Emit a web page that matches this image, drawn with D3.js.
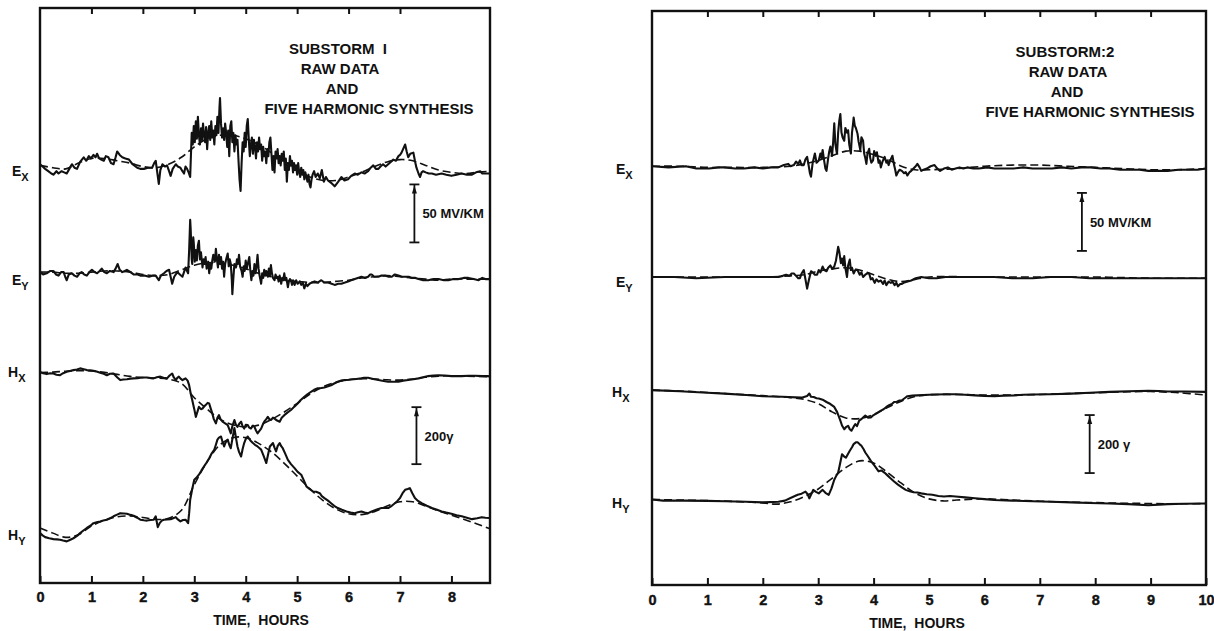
<!DOCTYPE html>
<html><head><meta charset="utf-8">
<script src="https://cdn.jsdelivr.net/npm/d3@7"></script>
<style>
body{margin:0;background:#fff}
svg{display:block}
text{font-family:"Liberation Sans",Arial,sans-serif;fill:#111}
</style>
</head><body>
<svg id="chart" width="1214" height="631"></svg>
<script>
// ---------------- DATA ----------------
const hoursTicks1 = [0,1,2,3,4,5,6,7,8];
const hoursTicks2 = [0,1,2,3,4,5,6,7,8,9,10];
const titleLines1 = ["SUBSTORM  I","RAW DATA","AND","FIVE HARMONIC SYNTHESIS"];
const titleLines2 = ["SUBSTORM:2","RAW DATA","AND","FIVE HARMONIC SYNTHESIS"];
const axisTitle = "TIME,  HOURS";
const eBarLabel = "50 MV/KM";
const hBarLabel1 = "200\u03b3";
const hBarLabel2 = "200 \u03b3";
const eBarSize = 50;   // mV/km
const hBarSize = 200;  // gamma

// Substorm 1 — [hours, deviation] (E in mV/km, H in gamma)
const ex1Raw = [[0,3],[0.05,1],[0.1,-1],[0.16,-3],[0.22,-5],[0.26,-6],[0.32,-3],[0.36,-5],[0.42,-3],[0.47,-4],[0.52,-5],[0.57,-1],[0.62,3],[0.67,0],[0.72,-1],[0.78,5],[0.85,9],[0.9,6],[0.95,10],[0.99,8],[1.04,11],[1.08,9],[1.11,12],[1.15,8],[1.19,7],[1.24,6],[1.28,10],[1.33,9],[1.38,4],[1.43,3],[1.47,9],[1.5,14],[1.55,11],[1.6,9],[1.66,8],[1.73,7],[1.8,3],[1.89,0],[1.95,-1],[2.02,-1],[2.1,0],[2.18,0],[2.22,4],[2.25,6],[2.28,-4],[2.31,-14],[2.34,-2],[2.38,3],[2.43,1],[2.47,2],[2.51,-3],[2.54,-7],[2.58,-1],[2.64,3],[2.68,1],[2.73,0],[2.77,-3],[2.8,-5],[2.83,1],[2.86,-1],[2.89,-4],[2.92,-8],
[2.95,30],[2.97,20],[2.99,36],[3.01,22],[3.03,40],[3.05,25],[3.07,44],[3.09,28],[3.11,20],[3.13,34],[3.15,24],[3.17,38],[3.19,28],[3.21,22],[3.23,35],[3.25,16],[3.27,30],[3.29,36],[3.31,24],[3.33,40],[3.35,26],[3.37,32],[3.39,20],[3.41,36],[3.43,28],[3.45,44],[3.47,30],[3.49,52],[3.5,60],[3.52,38],[3.54,26],[3.56,34],[3.58,24],[3.6,38],[3.62,30],[3.64,18],[3.66,32],[3.68,10],[3.7,36],[3.72,40],[3.74,22],[3.76,30],[3.78,14],[3.8,28],[3.82,20],[3.84,24],[3.86,6],[3.88,-10],[3.9,-20],[3.92,4],[3.94,22],[3.96,14],[3.98,30],[4.0,18],[4.02,36],[4.04,42],[4.06,24],[4.08,10],[4.1,20],[4.12,26],[4.14,12],[4.16,24],[4.18,18],[4.2,8],[4.22,22],[4.24,14],[4.26,26],[4.28,16],[4.3,20],[4.32,6],[4.34,18],[4.36,10],[4.38,14],[4.4,4],[4.42,16],[4.44,10],[4.46,22],[4.48,26],[4.5,12],[4.52,-2],[4.54,10],[4.56,-4],[4.58,14],[4.6,8],[4.62,16],[4.64,4],[4.66,10],[4.68,2],[4.7,12],[4.72,6],[4.74,14],[4.76,-2],[4.78,8],[4.8,-12],[4.82,4],[4.84,-2],[4.86,10],[4.88,2],[4.9,6],[4.92,-4],[4.94,4],[4.96,-2],[4.98,2],[5.0,-6],[5.02,4],[5.04,-4],[5.06,-8],[5.08,0],[5.1,-6],[5.12,-2],[5.14,-10],[5.16,-4],[5.18,-8],[5.2,-12],[5.22,-6],[5.24,-14],[5.26,-17],[5.28,-10],[5.3,-6],[5.33,-3],[5.36,-8],[5.4,-5],[5.44,-9],[5.48,-2],[5.52,-12],[5.56,-8],
[5.6,-11],[5.66,-13],[5.73,-16],[5.8,-12],[5.86,-8],[5.92,-11],[5.99,-10],[6.05,-7],[6.12,-5],[6.18,-6],[6.25,-4],[6.31,-5],[6.38,-3],[6.43,0],[6.48,2],[6.53,-1],[6.58,-1],[6.62,1],[6.67,3],[6.72,1],[6.77,3],[6.82,5],[6.87,7],[6.92,6],[6.97,10],[7.0,11],[7.03,13],[7.06,16],[7.1,20],[7.13,14],[7.16,9],[7.2,12],[7.26,13],[7.29,6],[7.32,0],[7.36,-5],[7.39,-8],[7.42,-4],[7.45,-3],[7.5,-4],[7.56,-5],[7.62,-5],[7.7,-6],[7.81,-5],[7.9,-6],[8.0,-7],[8.1,-6],[8.2,-5],[8.3,-6],[8.4,-6],[8.48,-4],[8.56,-3],[8.6,-5],[8.7,-5],[8.75,-5]];
const ex1Syn = [[0,2],[0.25,0],[0.5,-1],[0.75,4],[1,8],[1.25,8],[1.5,6],[1.75,4],[2,1],[2.25,0],[2.5,3],[2.75,9],[3,18],[3.25,25],[3.5,28],[3.75,28],[4,25],[4.25,20],[4.5,13],[4.75,6],[5,-2],[5.25,-8],[5.5,-11],[5.75,-11],[6,-8],[6.25,-4],[6.5,1],[6.75,5],[7,7],[7.25,6],[7.5,2],[7.75,-2],[8,-4],[8.25,-5],[8.5,-4],[8.75,-3]];

const ey1Raw = [[0,1],[0.06,-1],[0.13,0],[0.2,2],[0.26,2],[0.31,-1],[0.36,-2],[0.41,1],[0.46,1],[0.49,-3],[0.52,-6],[0.56,-1],[0.62,0],[0.67,-2],[0.72,-3],[0.77,0],[0.81,1],[0.86,-1],[0.91,-2],[0.96,1],[1.01,3],[1.06,1],[1.11,0],[1.16,2],[1.2,4],[1.25,1],[1.3,0],[1.36,2],[1.43,1],[1.47,4],[1.51,8],[1.55,3],[1.6,1],[1.65,2],[1.69,3],[1.76,1],[1.82,-1],[1.9,-1],[1.95,-2],[2.03,-2],[2.12,-3],[2.2,-2],[2.25,-2],[2.28,-4],[2.31,-6],[2.35,-2],[2.41,0],[2.46,2],[2.51,3],[2.54,-3],[2.57,-9],[2.61,-3],[2.67,1],[2.72,-1],[2.77,-3],[2.8,1],[2.83,5],[2.86,2],[2.88,0],[2.9,20],[2.92,46],[2.93,38],[2.95,12],[2.96,8],[2.98,31],[2.99,26],[3.01,10],[3.03,20],[3.05,11],[3.07,24],[3.09,28],[3.11,12],[3.13,18],[3.16,5],[3.18,12],[3.2,8],[3.22,14],[3.24,4],[3.27,10],[3.29,0],[3.31,8],[3.33,4],[3.35,11],[3.37,16],[3.4,10],[3.42,21],[3.44,12],[3.46,5],[3.48,16],[3.5,8],[3.52,14],[3.54,4],[3.56,10],[3.58,-3],[3.6,8],[3.62,12],[3.65,17],[3.67,6],[3.69,12],[3.71,8],[3.73,-6],[3.74,-18],[3.76,-4],[3.78,8],[3.81,5],[3.83,12],[3.85,8],[3.87,16],[3.89,6],[3.92,2],[3.94,-3],[3.96,6],[3.98,2],[4.0,11],[4.02,4],[4.04,8],[4.07,14],[4.09,2],[4.11,-6],[4.13,2],[4.15,-2],[4.17,8],[4.19,0],[4.21,6],[4.23,16],[4.25,4],[4.27,-2],[4.3,-9],[4.32,0],[4.34,-4],[4.36,3],[4.38,-2],[4.4,2],[4.43,-3],[4.45,4],[4.47,-2],[4.49,7],[4.51,0],[4.53,-4],[4.56,-6],[4.58,-1],[4.6,-4],[4.62,-3],[4.64,-7],[4.66,-2],[4.69,-9],[4.71,-4],[4.73,-6],[4.75,0],[4.77,-6],[4.79,-4],[4.82,-12],[4.84,-7],[4.86,-5],[4.88,-6],[4.9,-10],[4.92,-6],[4.95,-10],[4.98,-6],[5.01,-9],[5.05,-7],[5.08,-10],[5.11,-8],[5.14,-13],[5.17,-9],[5.2,-11],[5.24,-9],[5.28,-8],[5.34,-7],[5.4,-8],[5.47,-6],[5.53,-8],[5.6,-8],[5.67,-9],[5.73,-10],[5.8,-9],[5.86,-9],[5.93,-8],[5.99,-7],[6.05,-6],[6.12,-5],[6.18,-4],[6.25,-3],[6.32,-4],[6.38,-3],[6.42,-1],[6.45,-1],[6.5,-3],[6.58,-3],[6.64,-2],[6.71,-2],[6.78,-3],[6.84,-3],[6.9,-1],[6.97,-2],[7.04,-3],[7.1,-3],[7.17,-3],[7.23,-4],[7.3,-4],[7.36,-5],[7.45,-6],[7.55,-6],[7.65,-5],[7.75,-5],[7.85,-6],[7.94,-6],[8.04,-5],[8.14,-5],[8.24,-4],[8.33,-4],[8.43,-5],[8.53,-6],[8.6,-4],[8.66,-5],[8.75,-5]];
const ey1Syn = [[0,1],[0.25,1],[0.5,0],[0.75,0],[1,1],[1.25,2],[1.5,2],[1.75,1],[2,-1],[2.25,-2],[2.5,-1],[2.75,3],[3,7],[3.25,9],[3.5,9],[3.75,7],[4,4],[4.25,0],[4.5,-3],[4.75,-6],[5,-7],[5.25,-8],[5.5,-8],[5.75,-7],[6,-6],[6.25,-4],[6.5,-3],[6.75,-2],[7,-3],[7.25,-4],[7.5,-5],[7.75,-6],[8,-5],[8.25,-5],[8.5,-5],[8.75,-5]];

const hx1Raw = [[0,0],[0.06,-4],[0.13,-7],[0.2,-4],[0.26,-5],[0.32,-9],[0.39,-11],[0.45,-4],[0.52,1],[0.58,4],[0.65,7],[0.72,9],[0.78,13],[0.85,10],[0.91,7],[0.98,6],[1.04,5],[1.1,2],[1.17,-2],[1.24,-6],[1.3,-11],[1.36,-6],[1.43,-5],[1.5,-18],[1.56,-28],[1.62,-26],[1.69,-25],[1.76,-23],[1.82,-22],[1.9,-21],[1.95,-20],[2.02,-19],[2.08,-19],[2.15,-21],[2.21,-22],[2.27,-18],[2.34,-16],[2.4,-20],[2.47,-22],[2.52,-12],[2.57,-5],[2.6,-18],[2.64,-28],[2.67,-20],[2.7,-16],[2.74,-24],[2.77,-28],[2.8,-25],[2.83,-22],[2.87,-30],[2.9,-46],[2.93,-75],[2.96,-98],[3.0,-130],[3.03,-157],[3.06,-140],[3.09,-122],[3.13,-130],[3.16,-128],[3.19,-120],[3.22,-116],[3.26,-108],[3.29,-110],[3.32,-128],[3.35,-145],[3.38,-165],[3.42,-180],[3.45,-160],[3.48,-151],[3.51,-165],[3.55,-174],[3.6,-180],[3.65,-186],[3.68,-200],[3.71,-215],[3.74,-190],[3.78,-168],[3.81,-185],[3.84,-192],[3.88,-180],[3.91,-174],[3.94,-190],[3.97,-198],[4.0,-185],[4.04,-186],[4.07,-195],[4.1,-198],[4.14,-188],[4.17,-192],[4.2,-205],[4.23,-215],[4.27,-205],[4.3,-198],[4.33,-185],[4.36,-174],[4.4,-165],[4.43,-157],[4.46,-165],[4.49,-168],[4.53,-160],[4.56,-163],[4.61,-170],[4.66,-174],[4.7,-160],[4.75,-151],[4.81,-142],[4.88,-133],[4.94,-122],[5.01,-110],[5.07,-98],[5.14,-87],[5.2,-78],[5.27,-69],[5.33,-62],[5.4,-57],[5.47,-56],[5.53,-54],[5.6,-50],[5.66,-46],[5.72,-40],[5.79,-34],[5.85,-30],[5.92,-28],[6.0,-27],[6.05,-26],[6.15,-24],[6.25,-22],[6.3,-20],[6.38,-20],[6.48,-24],[6.58,-28],[6.68,-31],[6.77,-34],[6.87,-34],[6.97,-34],[7.06,-30],[7.16,-28],[7.26,-25],[7.36,-22],[7.45,-18],[7.55,-14],[7.65,-12],[7.75,-11],[7.87,-12],[8.0,-14],[8.1,-14],[8.2,-14],[8.33,-13],[8.46,-13],[8.6,-14],[8.7,-14],[8.75,-15]];
const hx1Syn = [[0,-2],[0.25,0],[0.5,3],[0.75,5],[1,4],[1.25,-1],[1.5,-8],[1.75,-15],[2,-19],[2.25,-21],[2.5,-25],[2.75,-40],[3,-90],[3.25,-130],[3.5,-165],[3.75,-185],[4,-192],[4.25,-186],[4.5,-166],[4.75,-140],[5,-110],[5.25,-77],[5.5,-52],[5.75,-36],[6,-27],[6.25,-23],[6.5,-24],[6.75,-27],[7,-28],[7.25,-24],[7.5,-18],[7.75,-14],[8,-13],[8.25,-14],[8.5,-15],[8.75,-16]];

const hy1Raw = [[0,0],[0.05,-8],[0.1,-14],[0.18,-18],[0.26,-21],[0.33,-22],[0.39,-23],[0.45,-26],[0.52,-29],[0.58,-24],[0.65,-18],[0.72,-10],[0.78,0],[0.85,10],[0.91,18],[0.98,26],[1.04,35],[1.1,38],[1.17,41],[1.23,44],[1.3,47],[1.36,52],[1.43,59],[1.5,65],[1.56,70],[1.63,69],[1.69,68],[1.76,64],[1.82,61],[1.89,54],[1.95,47],[2.02,45],[2.08,44],[2.15,46],[2.21,47],[2.25,59],[2.27,40],[2.29,21],[2.33,36],[2.37,44],[2.41,47],[2.47,48],[2.54,49],[2.59,52],[2.64,56],[2.68,48],[2.73,41],[2.78,46],[2.83,47],[2.88,35],[2.9,70],[2.92,117],[2.96,155],[3.0,187],[3.05,196],[3.09,205],[3.14,220],[3.19,234],[3.24,248],[3.29,263],[3.34,280],[3.39,293],[3.42,310],[3.45,328],[3.48,335],[3.52,339],[3.55,320],[3.58,304],[3.61,318],[3.65,328],[3.68,310],[3.71,298],[3.74,330],[3.78,369],[3.81,335],[3.84,304],[3.87,285],[3.91,269],[3.94,295],[3.97,316],[4.0,330],[4.04,339],[4.09,325],[4.14,316],[4.18,310],[4.23,304],[4.27,298],[4.3,293],[4.35,270],[4.4,246],[4.44,280],[4.47,304],[4.5,310],[4.53,316],[4.56,300],[4.59,287],[4.62,305],[4.66,316],[4.69,305],[4.72,298],[4.77,278],[4.82,257],[4.88,242],[4.95,228],[5.01,215],[5.08,205],[5.13,185],[5.18,164],[5.24,155],[5.31,146],[5.37,145],[5.44,140],[5.48,130],[5.53,123],[5.6,114],[5.66,105],[5.72,96],[5.79,88],[5.87,82],[5.96,76],[6.04,72],[6.12,70],[6.18,73],[6.25,76],[6.31,72],[6.38,70],[6.45,76],[6.51,80],[6.58,85],[6.64,88],[6.71,88],[6.77,88],[6.84,96],[6.9,105],[6.95,113],[7.0,123],[7.05,140],[7.1,152],[7.15,155],[7.19,158],[7.24,140],[7.29,123],[7.35,113],[7.42,105],[7.52,96],[7.62,88],[7.72,82],[7.81,76],[7.9,72],[8.0,68],[8.1,63],[8.2,59],[8.3,54],[8.4,49],[8.5,52],[8.59,56],[8.66,54],[8.75,53]];
const hy1Syn = [[0,18],[0.25,0],[0.5,-15],[0.75,-5],[1,25],[1.25,45],[1.5,57],[1.75,60],[2,55],[2.25,48],[2.5,52],[2.75,80],[3,170],[3.25,250],[3.5,310],[3.75,335],[4,335],[4.25,315],[4.5,285],[4.75,245],[5,200],[5.25,155],[5.5,115],[5.75,85],[6,68],[6.25,65],[6.5,75],[6.75,95],[7,110],[7.25,110],[7.5,95],[7.75,78],[8,63],[8.25,48],[8.5,32],[8.75,15]];

// Substorm 2
const ex2Raw = [[0,1],[0.3,0],[0.61,1],[0.8,-1],[1.03,-1],[1.2,0],[1.31,0],[1.5,-1],[1.66,-1],[1.85,0],[2.0,-1],[2.15,0],[2.28,0],[2.38,2],[2.46,3],[2.5,1],[2.56,2],[2.6,5],[2.64,3],[2.67,6],[2.7,2],[2.74,2],[2.77,7],[2.8,9],[2.83,1],[2.85,-5],[2.87,-8],[2.9,4],[2.92,8],[2.94,12],[2.97,4],[3.01,6],[3.04,12],[3.06,8],[3.08,15],[3.11,5],[3.13,-1],[3.15,-3],[3.18,8],[3.2,14],[3.22,18],[3.25,10],[3.27,22],[3.29,38],[3.31,20],[3.33,14],[3.34,12],[3.36,30],[3.38,40],[3.4,46],[3.42,30],[3.44,26],[3.47,23],[3.49,34],[3.52,30],[3.54,32],[3.56,20],[3.59,12],[3.61,30],[3.63,38],[3.64,43],[3.66,36],[3.68,34],[3.71,29],[3.73,22],[3.76,15],[3.78,26],[3.81,23],[3.83,12],[3.85,8],[3.87,3],[3.89,12],[3.92,16],[3.94,8],[3.96,4],[3.99,6],[4.01,14],[4.04,10],[4.06,13],[4.09,4],[4.11,6],[4.13,0],[4.16,5],[4.18,7],[4.2,9],[4.23,4],[4.25,6],[4.27,2],[4.3,6],[4.32,8],[4.34,10],[4.37,2],[4.39,-2],[4.41,-7],[4.44,-4],[4.47,-2],[4.51,-3],[4.55,-5],[4.58,-4],[4.61,-7],[4.65,-4],[4.68,-3],[4.72,-1],[4.76,1],[4.79,3],[4.83,0],[4.86,-3],[4.9,-2],[4.96,-1],[5.03,1],[5.1,2],[5.15,-1],[5.2,-3],[5.27,-1],[5.34,0],[5.41,-2],[5.48,-1],[5.55,0],[5.62,-1],[5.69,0],[5.8,-1],[5.9,-1],[6.05,0],[6.18,-1],[6.35,-1],[6.53,-1],[6.7,0],[6.87,-1],[7.05,-1],[7.22,-1],[7.4,0],[7.57,-1],[7.75,0],[7.92,0],[8.1,-1],[8.26,-1],[8.45,-2],[8.61,-2],[8.8,-2],[8.96,-3],[9.15,-3],[9.31,-3],[9.5,-2],[9.66,-2],[9.85,-2],[10,-1]];
const ex2Syn = [[0,1],[0.5,1],[1,0],[1.5,0],[2,0],[2.5,1],[2.75,3],[3,6],[3.25,10],[3.5,14],[3.75,14],[4,11],[4.25,7],[4.5,1],[4.75,-2],[5,-2],[5.5,-1],[6,1],[6.5,2],[7,2],[7.5,1],[8,0],[8.5,-1],[9,-2],[9.5,-2],[10,-1]];

const ey2Raw = [[0,0],[0.4,0],[0.8,-1],[1.31,0],[1.8,0],[2.28,0],[2.36,1],[2.42,2],[2.48,1],[2.52,3],[2.56,3],[2.6,1],[2.64,-1],[2.67,-1],[2.7,3],[2.74,6],[2.77,-2],[2.8,-10],[2.83,-3],[2.87,5],[2.9,4],[2.94,2],[2.98,2],[3.01,6],[3.04,4],[3.08,9],[3.11,6],[3.15,5],[3.18,8],[3.22,10],[3.25,7],[3.29,9],[3.32,14],[3.34,20],[3.36,26],[3.38,22],[3.41,12],[3.43,16],[3.45,10],[3.47,18],[3.49,8],[3.52,0],[3.54,10],[3.57,15],[3.59,6],[3.61,8],[3.64,3],[3.67,6],[3.71,6],[3.75,2],[3.78,4],[3.81,0],[3.85,2],[3.88,3],[3.92,3],[3.95,-2],[3.98,-1],[4.02,-5],[4.05,-2],[4.09,-4],[4.13,-3],[4.17,-6],[4.2,-3],[4.23,-7],[4.27,-4],[4.31,-5],[4.34,-4],[4.38,-7],[4.41,-5],[4.44,-8],[4.48,-6],[4.51,-6],[4.54,-5],[4.6,-4],[4.68,-3],[4.76,-1],[4.86,0],[5,-1],[5.14,-1],[5.3,0],[5.48,0],[5.7,0],[6,0],[6.18,0],[6.5,-1],[6.87,-1],[7.2,0],[7.57,0],[7.9,-1],[8.26,-1],[8.6,-1],[8.96,-1],[9.5,-1],[10,-1]];
const ey2Syn = [[0,0],[1,0],[2,0],[2.5,1],[2.75,2],[3,5],[3.25,7],[3.5,8],[3.75,6],[4,2],[4.25,-2],[4.5,-4],[4.75,-2],[5,0],[6,0],[7,0],[8,0],[9,-1],[10,-1]];

const hx2Raw = [[0,0],[0.5,-4],[1,-9],[1.31,-12],[1.7,-17],[2.0,-21],[2.35,-23],[2.7,-26],[2.8,-20],[2.84,-12],[2.87,-23],[2.92,-24],[2.97,-28],[3.01,-29],[3.08,-33],[3.15,-41],[3.22,-48],[3.29,-58],[3.34,-75],[3.37,-90],[3.4,-105],[3.43,-122],[3.47,-135],[3.5,-128],[3.54,-123],[3.57,-135],[3.6,-140],[3.64,-126],[3.67,-117],[3.7,-124],[3.74,-105],[3.79,-98],[3.85,-88],[3.9,-95],[3.95,-94],[4.0,-86],[4.04,-82],[4.09,-76],[4.14,-70],[4.18,-66],[4.23,-58],[4.28,-52],[4.33,-48],[4.37,-41],[4.42,-40],[4.46,-36],[4.51,-35],[4.56,-28],[4.61,-21],[4.7,-19],[4.79,-18],[5.0,-16],[5.14,-15],[5.3,-14],[5.48,-14],[5.65,-16],[5.83,-18],[6.0,-20],[6.18,-21],[6.35,-19],[6.53,-18],[6.7,-16],[6.87,-15],[7.2,-14],[7.57,-12],[7.9,-9],[8.26,-6],[8.6,-4],[8.96,-2],[9.15,-3],[9.31,-5],[9.6,-5],[10,-6]];
const hx2Syn = [[0,0],[0.5,-3],[1,-8],[1.5,-14],[2,-19],[2.5,-26],[2.75,-32],[3,-47],[3.25,-75],[3.5,-96],[3.75,-98],[4,-84],[4.25,-60],[4.5,-38],[4.75,-22],[5,-16],[5.5,-15],[6,-17],[6.5,-17],[7,-15],[7.5,-12],[8,-9],[8.5,-6],[9,-5],[9.5,-9],[10,-17]];

const hy2Raw = [[0,2],[0.2,-2],[0.6,-2],[1,-3],[1.31,-4],[1.7,-6],[2.0,-8],[2.28,-6],[2.4,-2],[2.49,6],[2.56,12],[2.63,18],[2.7,22],[2.77,29],[2.81,20],[2.84,6],[2.88,22],[2.91,35],[2.96,28],[3.01,23],[3.05,30],[3.08,35],[3.13,25],[3.19,18],[3.24,40],[3.29,70],[3.33,85],[3.36,94],[3.4,130],[3.43,158],[3.47,150],[3.5,146],[3.54,160],[3.57,170],[3.61,182],[3.64,193],[3.68,199],[3.71,199],[3.75,192],[3.78,187],[3.82,175],[3.85,164],[3.9,150],[3.95,135],[4.02,118],[4.09,99],[4.14,102],[4.2,94],[4.25,85],[4.3,76],[4.37,64],[4.44,53],[4.51,44],[4.58,35],[4.65,30],[4.72,27],[4.79,26],[4.86,23],[4.96,20],[5.06,18],[5.17,14],[5.27,12],[5.38,14],[5.48,12],[5.65,9],[5.83,6],[6.0,3],[6.18,0],[6.5,-2],[6.87,-4],[7.2,-6],[7.57,-8],[7.9,-10],[8.26,-12],[8.6,-14],[8.96,-18],[9.15,-16],[9.31,-14],[9.6,-13],[10,-12]];
const hy2Syn = [[0,2],[0.5,0],[1,-2],[1.5,-5],[2,-10],[2.25,-14],[2.5,-6],[2.75,12],[3,38],[3.25,75],[3.5,112],[3.75,135],[4,128],[4.25,95],[4.5,58],[4.75,24],[5,4],[5.25,-3],[5.5,0],[6,4],[6.5,0],[7,-4],[7.5,-7],[8,-9],[8.5,-11],[9,-12],[9.5,-13],[10,-12]];

// ---------------- LAYOUT ----------------
const panels = [
  { left:40, right:490, top:8, bottom:583, tMax:8.75, ticks:hoursTicks1, topTicks:[1,2,3,4,5,6,7],
    ePx:58/50, hPx:57/200,
    tracks:[
      {main:"E", sub:"X", kind:"E", off:358, raw:ex1Raw, syn:ex1Syn, lx:12, ldy:8},
      {main:"E", sub:"Y", kind:"E", off:267, raw:ey1Raw, syn:ey1Syn, lx:12, ldy:12},
      {main:"H", sub:"X", kind:"H", off:740, raw:hx1Raw, syn:hx1Syn, lx:8, ldy:5},
      {main:"H", sub:"Y", kind:"H", off:175, raw:hy1Raw, syn:hy1Syn, lx:8, ldy:7}
    ],
    title:titleLines1, titleX:[338,340,342,369], titleY:[54,74,94,114],
    eBar:{t:7.28, from:293.6}, hBar:{t:7.32, from:417, label:hBarLabel1},
    axisTitleX:261, tickLabelY:602, axisTitleY:625 },
  { left:652, right:1206, top:11, bottom:585, tMax:10, ticks:hoursTicks2, topTicks:[1,2,3,4,5,6,7,8,9],
    ePx:58/50, hPx:58/200,
    tracks:[
      {main:"E", sub:"X", kind:"E", off:360, raw:ex2Raw, syn:ex2Syn, lx:616, ldy:7},
      {main:"E", sub:"Y", kind:"E", off:265.5, raw:ey2Raw, syn:ey2Syn, lx:616, ldy:10},
      {main:"H", sub:"X", kind:"H", off:672, raw:hx2Raw, syn:hx2Syn, lx:612, ldy:7},
      {main:"H", sub:"Y", kind:"H", off:293, raw:hy2Raw, syn:hy2Syn, lx:612, ldy:8}
    ],
    title:titleLines2, titleX:[1065,1068,1067,1090], titleY:[57,77,97,117],
    eBar:{t:7.76, from:288}, hBar:{t:7.9, from:386, label:hBarLabel2},
    axisTitleX:917, tickLabelY:605, axisTitleY:628 }
];

// ---------------- DRAW ----------------
const svg = d3.select("#chart");

panels.forEach(p => {
  const g = svg.append("g");
  const x = d3.scaleLinear().domain([0, p.tMax]).range([p.left, p.right]);
  const yE = d3.scaleLinear().domain([0, (p.bottom - p.top) / p.ePx]).range([p.bottom, p.top]);
  const yH = d3.scaleLinear().domain([0, (p.bottom - p.top) / p.hPx]).range([p.bottom, p.top]);
  const yOf = k => k === "E" ? yE : yH;

  // frame
  g.append("rect").attr("x", p.left).attr("y", p.top)
    .attr("width", p.right - p.left).attr("height", p.bottom - p.top)
    .attr("fill", "none").attr("stroke", "#111").attr("stroke-width", 2.4);

  // bottom axis
  const ax = g.append("g").attr("transform", `translate(0,${p.bottom})`)
    .call(d3.axisBottom(x).tickValues(p.ticks).tickSize(-7).tickPadding(0).tickFormat(d3.format("d")));
  ax.select(".domain").remove();
  ax.selectAll("line").attr("stroke", "#111").attr("stroke-width", 2);
  ax.selectAll("text").attr("y", p.tickLabelY - p.bottom).attr("dy", 0)
    .style("font-size", "14.5px").style("font-weight", "bold").attr("fill", "#111")
    .attr("stroke", "#111").attr("stroke-width", 0.4);

  // top ticks
  const at = g.append("g").attr("transform", `translate(0,${p.top})`)
    .call(d3.axisTop(x).tickValues(p.topTicks).tickSize(-6).tickFormat(""));
  at.select(".domain").remove();
  at.selectAll("line").attr("stroke", "#111").attr("stroke-width", 2);

  g.append("text").attr("x", p.axisTitleX).attr("y", p.axisTitleY)
    .attr("text-anchor", "middle").style("font-size", "14px").style("font-weight", "bold")
    .attr("xml:space", "preserve").text(axisTitle);

  // traces
  p.tracks.forEach(tr => {
    const y = yOf(tr.kind);
    const rawLine = d3.line().x(d => x(d[0])).y(d => y(tr.off + d[1]));
    const synLine = d3.line().x(d => x(d[0])).y(d => y(tr.off + d[1])).curve(d3.curveCatmullRom.alpha(0.5));
    g.append("path").attr("d", synLine(tr.syn)).attr("fill", "none")
      .attr("stroke", "#111").attr("stroke-width", 1.6).attr("stroke-dasharray", "8,4");
    g.append("path").attr("d", rawLine(tr.raw)).attr("fill", "none")
      .attr("stroke", "#111").attr("stroke-width", 2.1).attr("stroke-linejoin", "round");

    const ly = y(tr.off) + tr.ldy;
    const t = g.append("text").attr("x", tr.lx).attr("y", ly)
      .style("font-size", "14px").style("font-weight", "bold");
    t.append("tspan").text(tr.main);
    t.append("tspan").attr("dy", 5).style("font-size", "11px").text(tr.sub);
  });

  // scale bars
  const drawBar = (y, tHour, from, size, label) => {
    const bx = x(tHour), y0 = y(from), y1 = y(from + size);
    g.append("line").attr("x1", bx).attr("x2", bx).attr("y1", y0).attr("y2", y1)
      .attr("stroke", "#111").attr("stroke-width", 1.8);
    [y0, y1].forEach(yy => g.append("line").attr("x1", bx - 5).attr("x2", bx + 5)
      .attr("y1", yy).attr("y2", yy).attr("stroke", "#111").attr("stroke-width", 1.8));
    g.append("path").attr("d", `M${bx - 2.5},${y1 + 9} L${bx},${y1 + 1} L${bx + 2.5},${y1 + 9} Z`)
      .attr("fill", "#111");
    g.append("text").attr("x", bx + 8).attr("y", (y0 + y1) / 2 + 5)
      .style("font-size", "13px").style("font-weight", "bold").text(label);
  };
  drawBar(yE, p.eBar.t, p.eBar.from, eBarSize, eBarLabel);
  drawBar(yH, p.hBar.t, p.hBar.from, hBarSize, p.hBar.label);

  // title
  p.title.forEach((line, i) => {
    g.append("text").attr("x", p.titleX[i]).attr("y", p.titleY[i])
      .attr("text-anchor", "middle").style("font-size", "15px").style("font-weight", "bold")
      .attr("xml:space", "preserve").text(line);
  });
});
</script>
</body></html>
